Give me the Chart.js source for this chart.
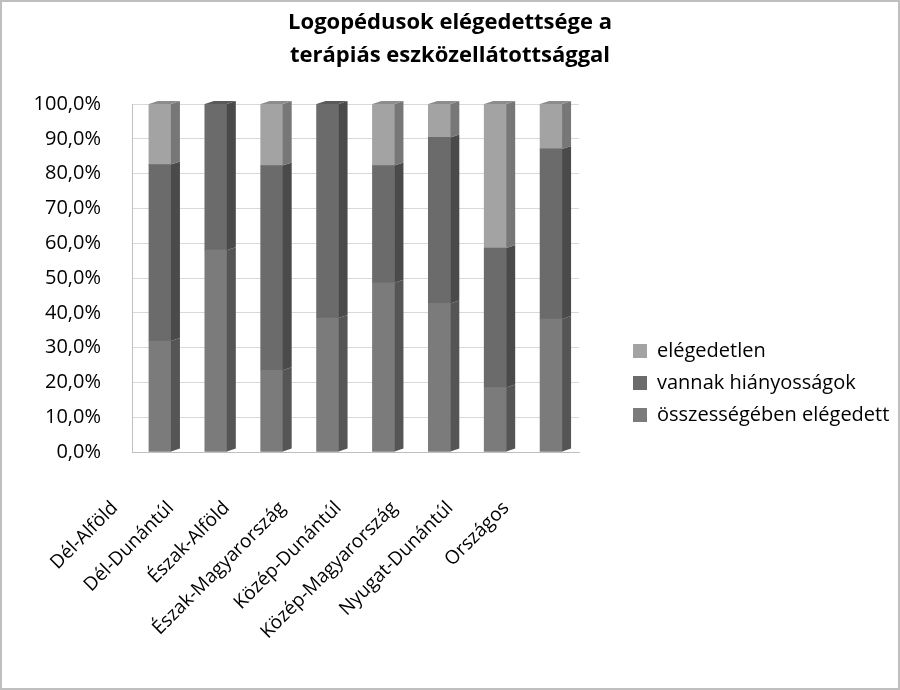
<!DOCTYPE html>
<html>
<head>
<meta charset="utf-8">
<script src="https://cdn.jsdelivr.net/npm/chart.js@4.4.1/dist/chart.umd.min.js"></script>
<style>
  html, body { margin: 0; padding: 0; background: #fff; }
  #wrap { width: 900px; height: 690px; position: relative; }
</style>
</head>
<body>
<div id="wrap"><canvas id="chart"></canvas></div>
<script>
// Régiók (kategóriák)
const regions = [
  'Dél-Alföld', 'Dél-Dunántúl', 'Észak-Alföld', 'Észak-Magyarország',
  'Közép-Dunántúl', 'Közép-Magyarország', 'Nyugat-Dunántúl', 'Országos'
];
// Értékek százalékban
const satisfied    = [31.9, 58.0, 23.5, 38.5, 48.6, 42.7, 18.5, 38.2]; // összességében elégedett
const shortcomings = [50.7, 42.0, 58.8, 61.5, 33.7, 47.7, 40.1, 48.9]; // vannak hiányosságok
const dissatisfied = [17.4,  0.0, 17.7,  0.0, 17.7,  9.6, 41.4, 12.9]; // elégedetlen
const yMin = 0, yMax = 100, yStep = 10;

const FONT = '"Open Sans", "Liberation Sans", sans-serif';
const LEGEND_W = 279;     // legend needs more room than the layout gives a side box
const LEGEND_SHIFT = 53;  // push legend rows down next to the lower half of the plot

// Fake 3D: right side face and top cap drawn from each bar's own geometry.
const depth = {
  id: 'depth',
  afterDatasetsDraw(chart) {
    const ctx = chart.ctx;
    const dx = 9, dy = 3;
    const sets = chart.data.datasets;
    ctx.save();
    sets.forEach((ds, i) => {
      const meta = chart.getDatasetMeta(i);
      meta.data.forEach((bar, j) => {
        if (!ds.data[j]) return;
        const { x, y, base, width } = bar.getProps(['x', 'y', 'base', 'width'], true);
        const l = x - width / 2, r = x + width / 2;
        ctx.fillStyle = ds.sideColor;
        ctx.beginPath();
        ctx.moveTo(r, y);
        ctx.lineTo(r + dx, y - dy);
        ctx.lineTo(r + dx, base - dy);
        ctx.lineTo(r, base);
        ctx.closePath();
        ctx.fill();
        const isTop = sets.slice(i + 1).every(d => !d.data[j]);
        if (isTop) {
          ctx.fillStyle = ds.topColor;
          ctx.beginPath();
          ctx.moveTo(l, y);
          ctx.lineTo(l + dx, y - dy);
          ctx.lineTo(r + dx, y - dy);
          ctx.lineTo(r, y);
          ctx.closePath();
          ctx.fill();
        }
      });
    });
    ctx.restore();
  }
};

// widen the built-in legend box and move it down a bit
const legendPlacement = {
  id: 'legendPlacement',
  beforeLayout(chart) {
    const lg = chart.legend;
    if (lg && !lg._wide) {
      const fit = lg.fit;
      lg.fit = function () { fit.call(this); this.width = LEGEND_W; };
      lg._wide = true;
    }
  },
  afterLayout(chart) {
    const lg = chart.legend;
    if (!lg) return;
    lg.top += LEGEND_SHIFT;
    lg.bottom += LEGEND_SHIFT;
  }
};

// thin grey frame round the whole picture
const frame = {
  id: 'frame',
  afterDraw(chart) {
    const ctx = chart.ctx;
    ctx.save();
    ctx.strokeStyle = '#bfbfbf';
    ctx.lineWidth = 2;
    ctx.strokeRect(1, 1, chart.width - 2, chart.height - 2);
    ctx.restore();
  }
};

new Chart(document.getElementById('chart'), {
  type: 'bar',
  data: {
    labels: regions,
    datasets: [
      { label: 'összességében elégedett', data: satisfied,
        backgroundColor: '#7b7b7b', sideColor: '#555555', topColor: '#666666' },
      { label: 'vannak hiányosságok', data: shortcomings,
        backgroundColor: '#6b6b6b', sideColor: '#4a4a4a', topColor: '#5a5a5a' },
      { label: 'elégedetlen', data: dissatisfied,
        backgroundColor: '#a3a3a3', sideColor: '#777777', topColor: '#8c8c8c' }
    ]
  },
  options: {
    responsive: true,
    maintainAspectRatio: false,
    animation: false,
    layout: { padding: { left: 0, right: 0, top: 0, bottom: 30 } },
    datasets: { bar: { barThickness: 22, borderWidth: 0 } },
    plugins: {
      title: {
        display: true,
        text: ['Logopédusok elégedettsége a', 'terápiás eszközellátottsággal'],
        color: '#000',
        font: { family: FONT, size: 22, weight: 'bold', lineHeight: 1.5 },
        padding: { top: 6, bottom: 32 }
      },
      legend: {
        position: 'right',
        reverse: true,
        labels: {
          color: '#000',
          font: { family: FONT, size: 20 },
          boxWidth: 14, boxHeight: 14, padding: 12
        }
      },
      tooltip: { enabled: false }
    },
    scales: {
      x: {
        stacked: true,
        grid: { display: false, drawTicks: false },
        border: { display: true, color: '#bfbfbf' },
        ticks: {
          color: '#000', font: { family: FONT, size: 19 },
          minRotation: 45, maxRotation: 45, autoSkip: false,
          labelOffset: -45, padding: 45
        },
        afterFit(s) { s.height = 208; }
      },
      y: {
        stacked: true,
        min: yMin, max: yMax,
        grid: { color: '#d9d9d9', drawTicks: false },
        border: { display: true, color: '#bfbfbf' },
        ticks: {
          stepSize: yStep, color: '#000', padding: 31,
          font: { family: FONT, size: 20 },
          callback: v => v.toFixed(1).replace('.', ',') + '%'
        },
        afterFit(s) { s.width = 132; }
      },
      spacer: {
        position: 'right',
        display: true,
        grid: { display: false },
        border: { display: false },
        ticks: { display: false },
        afterFit(s) { s.width = 42; }
      }
    }
  },
  plugins: [depth, legendPlacement, frame]
});
</script>
</body>
</html>
